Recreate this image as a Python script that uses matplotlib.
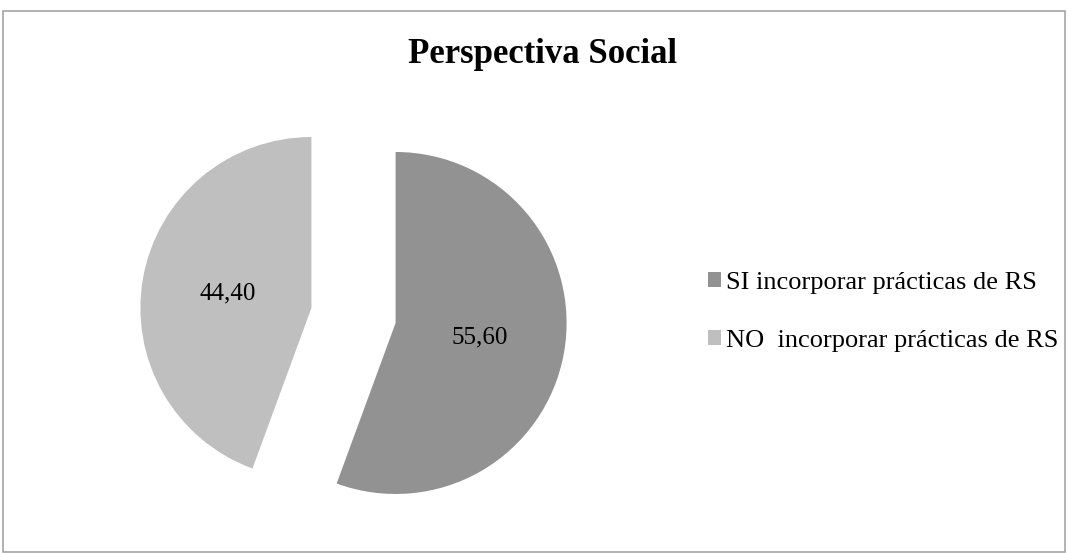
import matplotlib.pyplot as plt
from matplotlib.patches import Rectangle

plt.rcParams['font.family'] = ['Liberation Serif', 'DejaVu Serif']

labels = ['SI incorporar prácticas de RS', 'NO  incorporar prácticas de RS']
values = [55.60, 44.40]
colors = ['#929292', '#bfbfbf']

fig = plt.figure(figsize=(10.68, 5.53), dpi=100)
fig.patches.append(Rectangle((0.003, 0.002), 0.994, 0.978, transform=fig.transFigure,
                             fill=False, edgecolor='#a6a6a6', linewidth=1.2))

# 1 data unit = 171 px (pie radius), centre at pixel (353.5, 315.5)
ax = fig.add_axes([0, 0, 1, 1])
wedges, texts, autotexts = ax.pie(values, colors=colors, startangle=90, counterclock=False,
                                  explode=[0.25, 0.25], radius=1,
                                  autopct=lambda p: f'{p:.2f}'.replace('.', ','),
                                  pctdistance=0.5, textprops={'fontsize': 18})
px = 171.0
ax.set_xlim(-353.5 / px, (1068 - 353.5) / px)
ax.set_ylim(-(553 - 315.5) / px, 315.5 / px)

fig.text(0.508, 0.886, 'Perspectiva Social', ha='center', va='baseline',
         fontsize=25, fontweight='bold')

ax.legend(wedges, labels, loc='center left', bbox_to_anchor=(0.6406, 0.436),
          frameon=False, fontsize=19, handlelength=0.5, handleheight=0.5,
          handletextpad=0.2, labelspacing=1.35)

fig.savefig('out.png', dpi=100)
